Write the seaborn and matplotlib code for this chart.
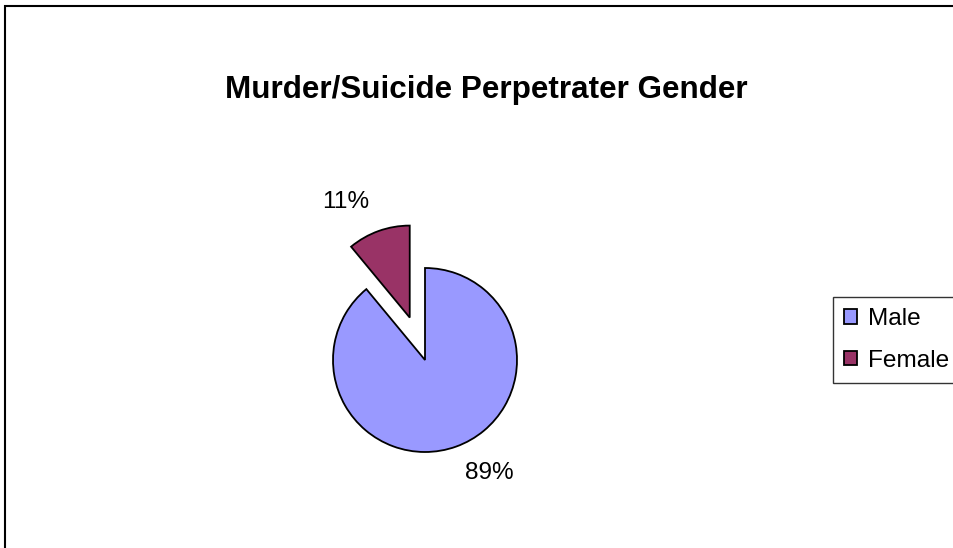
import matplotlib
matplotlib.use("Agg")
import matplotlib.pyplot as plt
from matplotlib.patches import Rectangle
import seaborn as sns

# Data
genders = ["Male", "Female"]
shares = [89, 11]
explode_amount = [0.0, 0.49]
colors = ["#9999FF", "#993366"]
title = "Murder/Suicide Perpetrater Gender"

sns.set_theme(style="white")
plt.rcParams["font.family"] = ["Liberation Sans", "DejaVu Sans"]
plt.rcParams["text.color"] = "black"

W, H = 954, 548
fig = plt.figure(figsize=(W / 100, H / 100), dpi=100)
fig.patch.set_facecolor("white")

# pie axes: centre at (425, 360) px, radius 92 px
r_px = 92
half = 1.25 * r_px
cx, cy = 425, 360
ax = fig.add_axes([(cx - half) / W, (H - cy - half) / H, 2 * half / W, 2 * half / H])

wedges, texts, pcts = ax.pie(
    shares,
    labels=None,
    colors=colors,
    explode=explode_amount,
    startangle=90,
    counterclock=False,
    autopct="%1.0f%%",
    pctdistance=1.43,
    wedgeprops=dict(edgecolor="black", linewidth=1.3),
    textprops=dict(fontsize=17.6, color="black"),
)
ax.set_xlim(-1.25, 1.25)
ax.set_ylim(-1.25, 1.25)
ax.set_aspect("equal")

# nudge percentage labels to where the original chart puts them
label_pos = [(0.70, -1.23), (-0.86, 1.72)]
for t, p in zip(pcts, label_pos):
    t.set_position(p)
    t.set_ha("center")
    t.set_va("center")

# title
fig.text(486 / W, 1 - 98 / H, title, ha="center", va="baseline",
         fontsize=22.6, fontweight="bold", color="black")

# chart frame (clipped at right and bottom)
fig.patches.append(Rectangle((5 / W, -0.2), 1.5, 1.2 - 6 / H, transform=fig.transFigure,
                             fill=False, edgecolor="black", linewidth=1.5))

# legend
leg = fig.legend(wedges, genders, loc="upper left",
                 bbox_to_anchor=(833 / W, 1 - 297 / H),
                 fontsize=17.6, frameon=True, fancybox=False,
                 handlelength=0.55, handleheight=0.55, handletextpad=0.45,
                 borderpad=0.45, labelspacing=0.8, borderaxespad=0)
leg.get_frame().set_edgecolor("black")
leg.get_frame().set_linewidth(1.0)
for t in leg.get_texts():
    t.set_color("black")

fig.savefig("out.png", dpi=100, facecolor="white")
